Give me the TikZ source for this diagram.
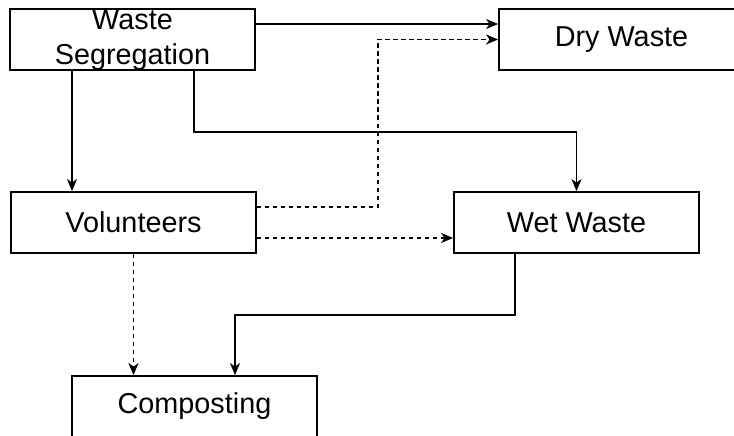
\documentclass[tikz,border=0pt]{standalone}
\usepackage{fontspec}
\setmainfont{Liberation Sans}
\usetikzlibrary{arrows.meta,calc}
\begin{document}
\begin{tikzpicture}[x=1pt,y=-1pt,
  box/.style={draw=black,line width=1.8pt,minimum width=245pt,minimum height=61pt,inner sep=0pt,
    font=\fontsize{28.8}{35}\selectfont,align=center},
  conn/.style={line width=1.7pt,-{Stealth[length=12pt,width=10pt,inset=3.5pt]}},
  dconn/.style={conn,dash pattern=on 4.5pt off 3.5pt}]
\clip (0,0) rectangle (734,436);
\fill[white] (0,0) rectangle (734,436);
\node[box] (ws) at (132.5,39.5) {};
\node[font=\fontsize{28.8}{35}\selectfont,align=center,inner sep=0pt] (wslabel) at ([yshift=-1pt]ws.center) {Waste\\Segregation};
\node[box] (dry) at (621.5,39.5) {Dry Waste};
\node[box] (vol) at (133.5,222.5) {Volunteers};
\node[box] (wet) at (576.5,222.5) {Wet Waste};
\node[box] (comp) at (194.5,406.5) {Composting};
\coordinate (wsA) at ([xshift=-60.5pt]ws.south);
\coordinate (wsB) at ([xshift=61.5pt]ws.south);
\draw[conn] ([yshift=15.5pt]ws.east) -- ([yshift=15.5pt]dry.west);
\draw[conn] (wsA) -- (wsA |- vol.north);
\draw[conn] (wsB) -- ++(0,61) -| (wet.north);
\draw[dconn] ([yshift=15.5pt]vol.east) -- ++(121,0) |- (dry.west);
\draw[dconn] ([yshift=-15.5pt]vol.east) -- ([yshift=-15.5pt]wet.west);
\draw[dconn] (vol.south) -- (vol.south |- comp.north);
\draw[conn] ([xshift=-61.5pt]wet.south) -- ++(0,61) -| ([xshift=40.5pt]comp.north);
\end{tikzpicture}
\end{document}
